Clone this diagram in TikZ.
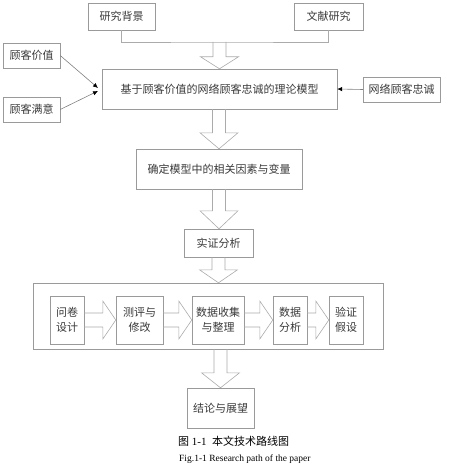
\documentclass[tikz,border=0pt]{standalone}
\usepackage{fontspec}
\setmainfont{Liberation Serif}
\newfontfamily\cjk{Noto Sans CJK SC}
\usetikzlibrary{arrows.meta,calc}
\definecolor{boxgray}{HTML}{9A9A9A}
\definecolor{arrgray}{HTML}{ABABAB}
\definecolor{txtgray}{HTML}{3A3A3A}
% hollow block arrows: start point, tip point, head length
\newcommand{\blkdown}[3]{%
  \draw[blk] let \p1=(#1), \p2=(#2) in
    (\x2-6.5pt,\y1) -- (\x2-6.5pt,\y2+#3pt) -- (\x2-19pt,\y2+#3pt) -- (\x2,\y2)
    -- (\x2+19pt,\y2+#3pt) -- (\x2+6.5pt,\y2+#3pt) -- (\x2+6.5pt,\y1);}
\newcommand{\blkright}[2]{%
  \draw[blk] let \p1=(#1), \p2=(#2) in
    (\x1,\y2+7pt) -- (\x2-13pt,\y2+7pt) -- (\x2-13pt,\y2+19pt) -- (\x2,\y2)
    -- (\x2-13pt,\y2-19pt) -- (\x2-13pt,\y2-7pt) -- (\x1,\y2-7pt);}
\begin{document}
\begin{tikzpicture}[x=1pt, y=-1pt,
  box/.style={draw=boxgray, fill=white, inner sep=0pt, align=center,
              text=txtgray, font=\cjk\fontsize{11}{15}\selectfont},
  blk/.style={draw=arrgray, line width=0.6pt, line join=miter},
  arr/.style={draw=black!50, line width=0.6pt,
              -{Latex[black, length=5pt, width=4.5pt]}}
]
\useasboundingbox (0,0) rectangle (454,468);

% top row
\node[box, minimum width=67pt, minimum height=27pt] (bg) at (121.5,16.5) {研究背景};
\node[box, minimum width=69pt, minimum height=27pt] (wx) at (328.5,16.5) {文献研究};
\coordinate (bkt) at (219.5,42);
\draw[blk] (bg.south) |- (bkt) -| (wx.south);

% model and its inputs
\node[box, minimum width=235pt, minimum height=40pt] (model) at (219.5,89)
      {基于顾客价值的网络顾客忠诚的理论模型};
\node[box, minimum width=57pt, minimum height=25pt] (gv) at (31.5,55.5) {顾客价值};
\node[box, minimum width=57pt, minimum height=25pt] (gs) at (31.5,109.5) {顾客满意};
\node[box, minimum width=77pt, minimum height=25pt] (loyal) at (401.5,89.5) {网络顾客忠诚};
\coordinate (inA) at (98,88);
\coordinate (inB) at (98,91);
\draw[arr] (gv.east) -- (inA);
\draw[arr] (gs.east) -- (inB);
\draw[arr] (loyal.west) -- (model.east);

% main column
\node[box, minimum width=166pt, minimum height=40pt] (factor) at (219,169)
      {确定模型中的相关因素与变量};
\node[box, minimum width=69pt, minimum height=28pt] (emp) at (218.5,243) {实证分析};
\node[draw=boxgray, minimum width=350pt, minimum height=66pt, inner sep=0pt] (big) at (208,316) {};
\node[box, minimum width=67pt, minimum height=40pt] (concl) at (220.5,408) {结论与展望};

\blkdown{bkt}{model.north}{12}
\blkdown{model.south}{factor.north}{16}
\blkdown{factor.south}{factor.south |- emp.north}{18}
\blkdown{emp.south}{emp.south |- big.north}{13}
\blkdown{big.south -| concl.north}{concl.north}{15}

% survey steps
\node[box, minimum width=34pt, minimum height=48pt] (s1) at (67,320) {问卷\\设计};
\node[box, minimum width=47pt, minimum height=48pt] (s2) at (139.5,320) {测评与\\修改};
\node[box, minimum width=52pt, minimum height=48pt] (s3) at (218,320) {数据收集\\与整理};
\node[box, minimum width=34pt, minimum height=48pt] (s4) at (290,320) {数据\\分析};
\node[box, minimum width=34pt, minimum height=48pt] (s5) at (346,320) {验证\\假设};
\blkright{s1.east}{s2.west}
\blkright{s2.east}{s3.west}
\blkright{s3.east}{s4.west}
\blkright{s4.east}{s5.west}

% captions
\node[anchor=west, inner sep=0pt, text=black, font=\fontsize{11}{13}\selectfont] (capcn) at (178,441)
      {{\cjk 图} 1-1\ \ {\cjk 本文技术路线图}};
\node[anchor=west, inner sep=0pt, text=black, font=\fontsize{9.5}{12}\selectfont] (capen) at (179,459)
      {Fig.1-1 Research path of the paper};
\end{tikzpicture}
\end{document}
